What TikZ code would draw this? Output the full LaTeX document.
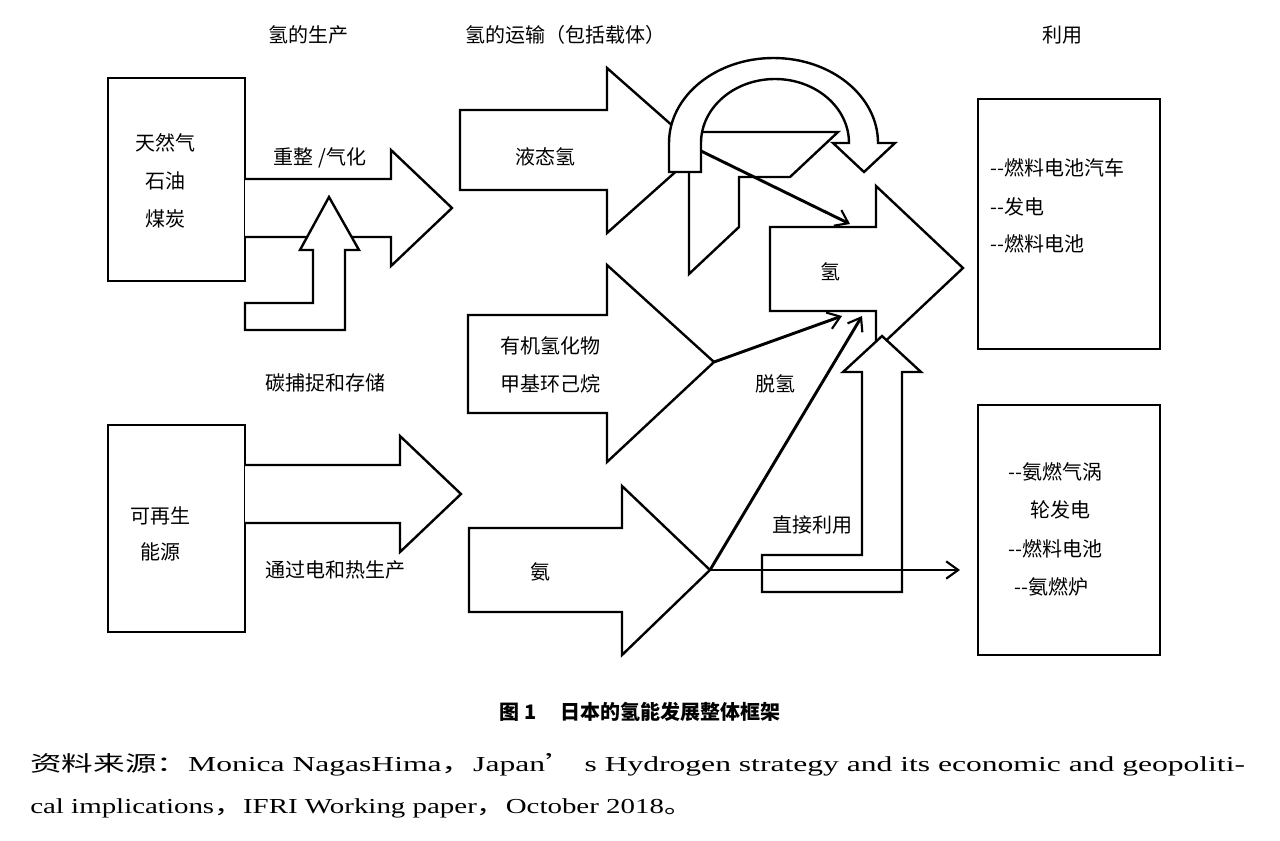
\documentclass[tikz,border=0pt]{standalone}
\usepackage{fontspec}
\usepackage{graphicx}
\setmainfont{Liberation Serif}
\newfontfamily\cjk{Noto Sans CJK SC}
\usetikzlibrary{arrows.meta}
\begin{document}
\begin{tikzpicture}[x=0.75pt,y=-0.75pt,
  shp/.style={draw=black,line width=1.8pt,fill=white,line join=miter},
  thin/.style={draw=black,line width=2.2pt,-{Straight Barb[length=9pt,width=13pt,line width=1.6pt]}},
  lab/.style={font=\cjk\fontsize{15}{18}\selectfont,inner sep=0pt},
  blab/.style={font=\cjk\fontsize{15}{18}\selectfont,inner sep=0pt,align=left}]
\fill[white] (0,0) rectangle (1280,840);
\useasboundingbox (0,0) rectangle (1280,840);
% headings
\node[lab] (h1) at (308,35) {氢的生产};
\node[lab] (h2) at (565,35) {氢的运输（包括载体）};
\node[lab] (h3) at (1062,35) {利用};
% left boxes
\draw[shp] (108,78) rectangle (245,281);
\node[lab] (s1) at (165,143) {天然气};
\node[lab] (s2) at (165,181) {石油};
\node[lab] (s3) at (165,219) {煤炭};
\draw[shp] (108,425) rectangle (245,632);
\node[lab] (r1) at (160,516) {可再生};
\node[lab] (r2) at (160,552) {能源};
% reforming arrow
\draw[shp] (245,179)--(391,179)--(391,150)--(452,208)--(391,266)--(391,237)--(245,237);
\draw[shp] (245,330)--(245,303)--(313,303)--(313,250)--(300,250)--(329,197)--(359,250)--(345,250)--(345,330)--cycle;
\node[lab] (l1) at (320,158) {重整 /气化};
\node[lab] (l2) at (325,383) {碳捕捉和存储};
% renewable arrow
\draw[shp] (245,465)--(400,465)--(400,436)--(461,494)--(400,552)--(400,523)--(245,523);
\node[lab] (l3) at (335,570) {通过电和热生产};
% transport arrows
\draw[shp] (460,110)--(607,110)--(607,68)--(700,150)--(607,233)--(607,190)--(460,190)--cycle;
\node[lab] (t1) at (545,157) {液态氢};
\draw[shp] (468,315)--(607,315)--(607,265)--(714,362)--(607,462)--(607,413)--(468,413)--cycle;
\node[blab] (t2) at (550,365) {有机氢化物\\[10pt]甲基环己烷};
\draw[shp] (469,528)--(622,528)--(622,486)--(710,570)--(622,655)--(622,612)--(469,612)--cycle;
\node[lab] (t3) at (540,572) {氨};
% trapezoid shape
\draw[shp] (701,132)--(838,132)--(790,177)--(739,177)--(739,227)--(689,274)--(689,172)--cycle;
% curved arrow
\draw[shp] (669,172)--(669,143) arc[start angle=180,end angle=360,x radius=104.5,y radius=85]
  --(895,143)--(864,172)--(833,143)--(849,143)
  arc[start angle=360,end angle=180,x radius=74,y radius=64]--(701,172)--cycle;
% hydrogen arrow
\draw[shp] (770,227)--(876,227)--(876,186)--(963,268)--(876,350)--(876,311)--(770,311)--cycle;
\node[lab] (hh) at (830,272) {氢};
% direct use L arrow
\draw[shp] (762,555)--(862,555)--(862,372)--(843,372)--(882,336)--(921,372)--(902,372)--(902,592)--(762,592)--cycle;
\node[lab] (d1) at (812,525) {直接利用};
\node[lab] (d2) at (775,384) {脱氢};
% thin arrows
\coordinate (a1) at (701,151); \coordinate (b1) at (850,224);
\coordinate (a2) at (714,362); \coordinate (b2) at (842,316);
\coordinate (a3) at (710,570); \coordinate (b3) at (862,316);
\coordinate (b4) at (960,570);
\draw[thin] (a1)--(b1);
\draw[thin] (a2)--(b2);
\draw[thin] (a3)--(b3);
\draw[thin] (a3)--(b4);
% right boxes
\draw[shp] (978,99) rectangle (1160,349);
\node[blab,anchor=west] (u1) at (990,168) {-{}-燃料电池汽车};
\node[blab,anchor=west] (u2) at (990,207) {-{}-发电};
\node[blab,anchor=west] (u3) at (990,244) {-{}-燃料电池};
\draw[shp] (978,405) rectangle (1160,655);
\node[lab,anchor=west] (v1) at (1008,472) {-{}-氨燃气涡};
\node[lab,anchor=west] (v2) at (1030,510) {轮发电};
\node[lab,anchor=west] (v3) at (1008,549) {-{}-燃料电池};
\node[lab,anchor=west] (v4) at (1014,587) {-{}-氨燃炉};
% caption
\node[inner sep=0pt,font=\cjk\bfseries\fontsize{15}{18}\selectfont] (cap) at (640,712) {图 1\hspace{1.2em}日本的氢能发展整体框架};
\node[inner sep=0pt,anchor=west,font=\fontsize{16}{19}\selectfont] (src1) at (30,765)
  {\resizebox{911pt}{\height}{{\cjk 资料来源：}Monica NagasHima{\cjk ，}Japan{\cjk ’} s Hydrogen strategy and its economic and geopoliti-}};
\node[inner sep=0pt,anchor=west,font=\fontsize{16}{19}\selectfont] (src2) at (30,808)
  {\resizebox{497pt}{\height}{cal implications{\cjk ，}IFRI Working paper{\cjk ，}October 2018{\cjk 。}}};
\end{tikzpicture}
\end{document}
